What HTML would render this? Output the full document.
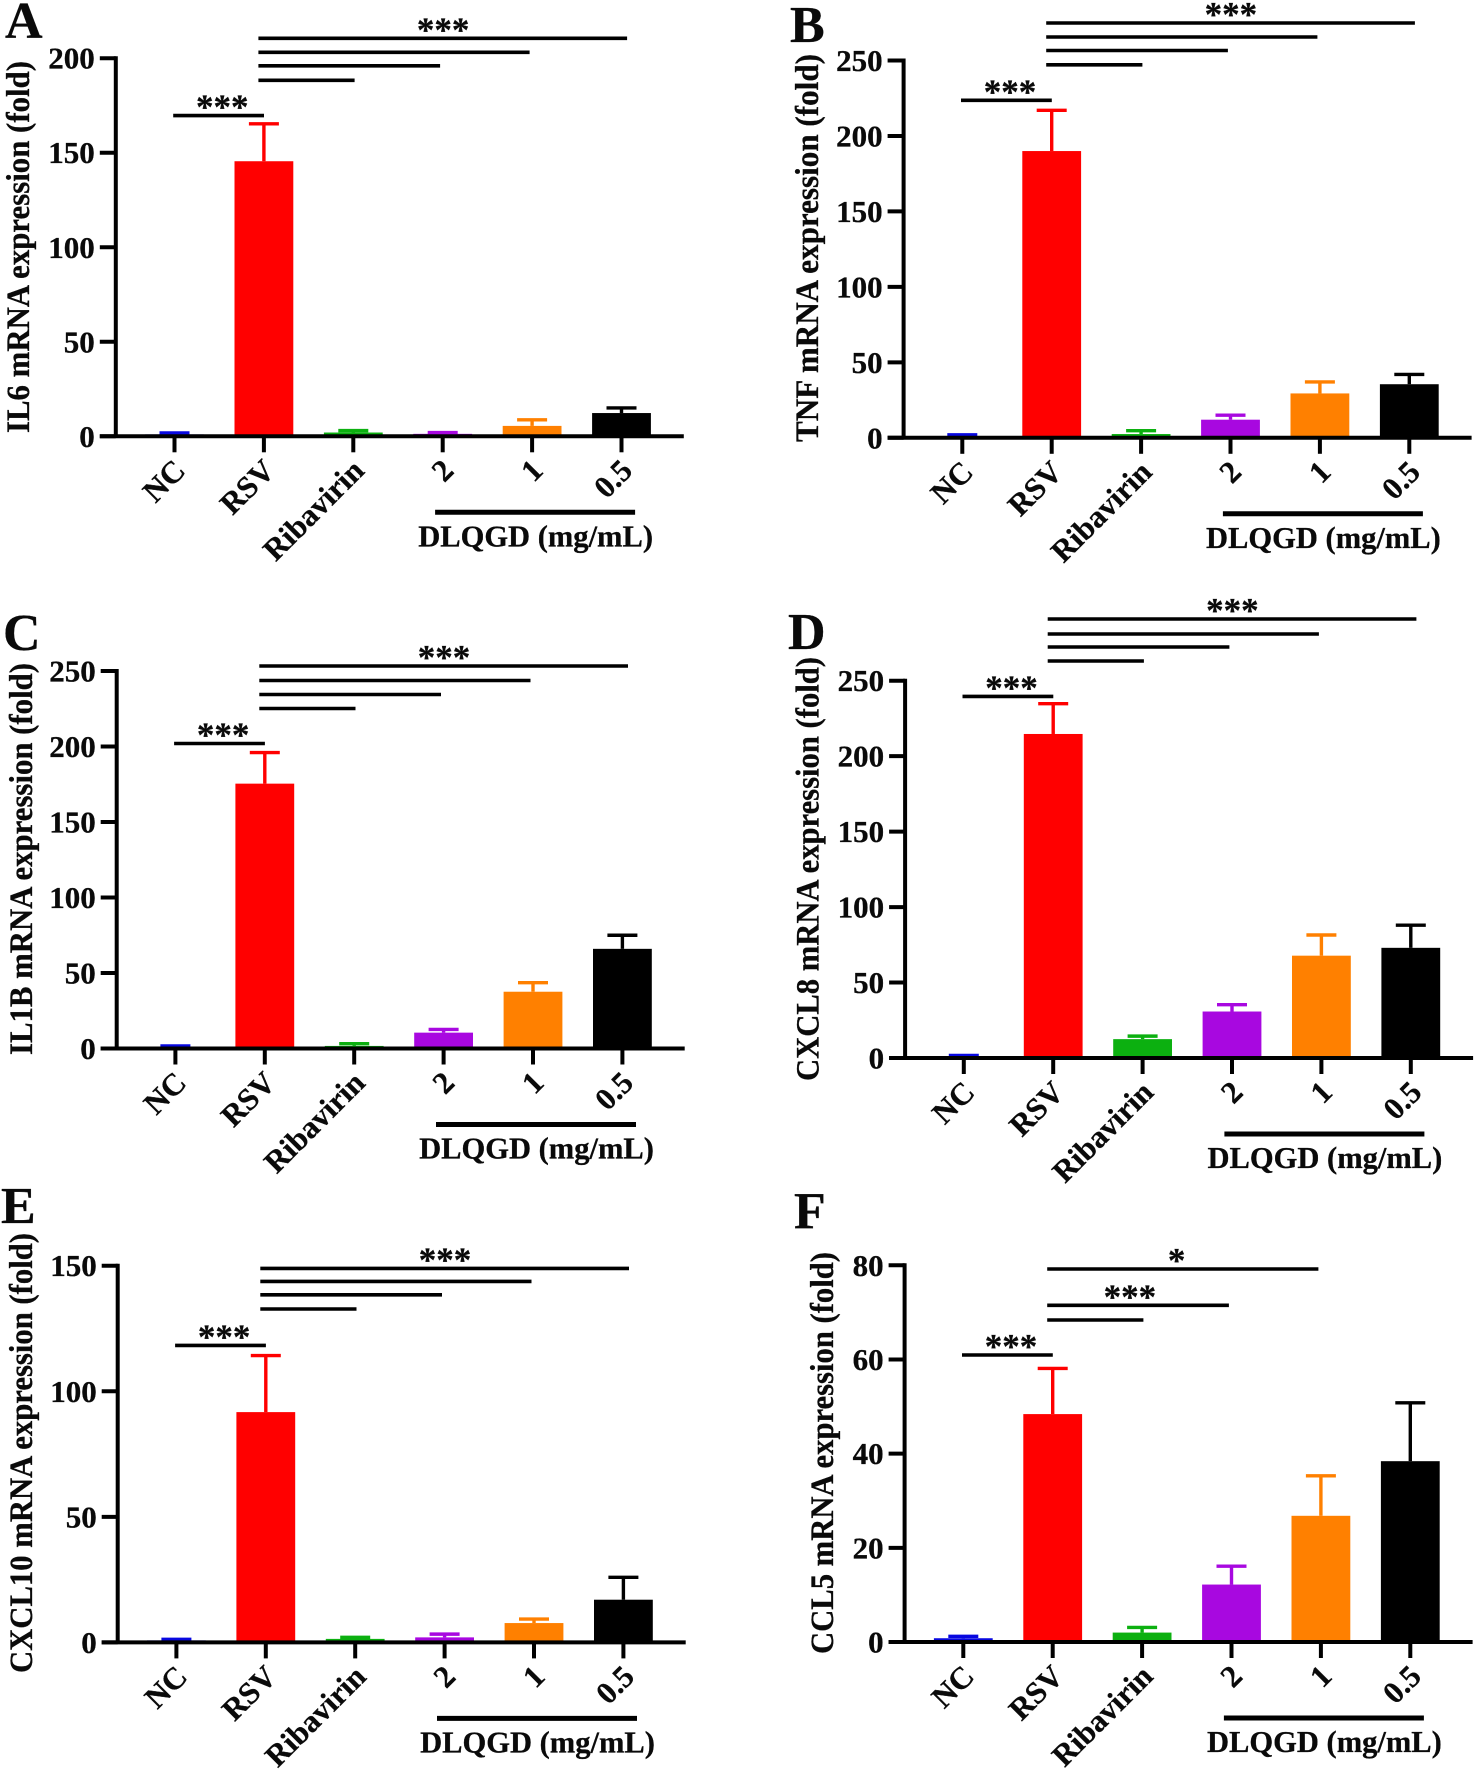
<!DOCTYPE html>
<html lang="en">
<head>
<meta charset="utf-8">
<title>mRNA expression bar charts</title>
<style>
html,body{margin:0;padding:0;background:#fff}
svg{display:block}
text{font-family:"Liberation Serif",serif;font-weight:bold;fill:#0a0a0a;stroke:#0a0a0a;stroke-width:.3px}
</style>
</head>
<body>
<svg id="figure" xmlns="http://www.w3.org/2000/svg" width="1476" height="1772" viewBox="0 0 1476 1772"></svg>
<script>
const categories = ['NC','RSV','Ribavirin','2','1','0.5'];
const barColors = ['#0808e0','#ff0000','#0cb010','#a808e0','#ff8000','#000000'];

const il6Values = [1,145.5,2,1.3,5.5,12.3];
const il6Tops = [1.8,165.3,3,2,8.7,15];
const il6Ticks = [0,50,100,150,200];

const tnfValues = [1,190,2.5,12,29.4,35.5];
const tnfTops = [2,217,4.7,15,37,42];
const tnfTicks = [0,50,100,150,200,250];

const il1bValues = [1,175.4,1.7,10.5,37.6,66];
const il1bTops = [1.7,196,3.2,12.6,43.6,75];
const il1bTicks = [0,50,100,150,200,250];

const cxcl8Values = [1,214.7,12.5,30.8,67.8,73];
const cxcl8Tops = [1.7,234.8,14.5,35.3,81.5,88];
const cxcl8Ticks = [0,50,100,150,200,250];

const cxcl10Values = [0.8,91.7,1.4,2,7.7,17];
const cxcl10Tops = [1.2,114.2,2,3.3,9.3,25.9];
const cxcl10Ticks = [0,50,100,150];

const ccl5Values = [0.8,48.4,2,12.2,26.8,38.4];
const ccl5Tops = [1.2,58.1,3.1,16.1,35.3,50.8];
const ccl5Ticks = [0,20,40,60,80];

const SVGNS = 'http://www.w3.org/2000/svg';
const svg = document.getElementById('figure');

function make(tag, parent, attrs, content) {
  const n = document.createElementNS(SVGNS, tag);
  for (const k in attrs) n.setAttribute(k, attrs[k]);
  if (content !== undefined) n.textContent = content;
  parent.appendChild(n);
  return n;
}

function slug(s) { return s.toLowerCase().replace(/[^a-z0-9]+/g, '-'); }

function drawPanel(p) {
  const g = make('g', svg, {});
  
  

  const maxTick = p.ticks[p.ticks.length - 1];
  const yScale = v => p.y0 - (v / maxTick) * (p.y0 - p.top);
  const xScale = i => p.axisX + 58.7 + i * 89.4;

  const letter = make('text', g, {x: p.letterX, y: p.letterY, 'font-size': 52}, p.letter);
  
  

  const title = make('text', g, {
    transform: 'translate(' + p.titleX + ',' + p.titleBottom + ') rotate(-90)',
    'font-size': 33, textLength: p.titleBottom - p.titleTop, lengthAdjust: 'spacingAndGlyphs'
  }, p.title);
  
  

  p.values.forEach((v, i) => {
    const cx = xScale(i);
    const top = yScale(p.tops[i]);
    const col = barColors[i];
    const stem = make('line', g, {x1: cx, x2: cx, y1: yScale(v), y2: top, stroke: col, 'stroke-width': 3.4});
    
    
    const cap = make('line', g, {x1: cx - 15, x2: cx + 15, y1: top, y2: top, stroke: col, 'stroke-width': 3.4});
    
    
    const bar = make('rect', g, {x: cx - 29.4, y: yScale(v), width: 58.8, height: p.y0 - yScale(v), fill: col});
    
    
  });

  const yAxis = make('line', g, {x1: p.axisX, x2: p.axisX, y1: p.top - 2, y2: p.y0, stroke: '#000', 'stroke-width': 4});
  
  
  const xAxis = make('line', g, {x1: p.axisX - 16, x2: p.axisX + 568, y1: p.y0, y2: p.y0, stroke: '#000', 'stroke-width': 4});
  
  

  p.ticks.forEach(t => {
    const y = yScale(t);
    const tick = make('line', g, {x1: p.axisX - 16, x2: p.axisX, y1: y, y2: y, stroke: '#000', 'stroke-width': 4});
    
    
    const lab = make('text', g, {x: p.axisX - 21, y: y + 10.5, 'font-size': 31, 'text-anchor': 'end'}, String(t));
    
    
  });

  categories.forEach((c, i) => {
    const cx = xScale(i);
    const tick = make('line', g, {x1: cx, x2: cx, y1: p.y0, y2: p.y0 + 16, stroke: '#000', 'stroke-width': 4});
    
    
    const lab = make('text', g, {
      transform: 'translate(' + (cx + 12.5) + ',' + (p.y0 + 36) + ') rotate(-45)',
      'font-size': 31, 'text-anchor': 'end'
    }, c);
    
    
  });

  const doseLine = make('line', g, {x1: p.axisX + 319.3, x2: p.axisX + 519.3, y1: p.y0 + 76, y2: p.y0 + 76, stroke: '#000', 'stroke-width': 5});
  
  
  const doseLab = make('text', g, {x: p.axisX + 302.4, y: p.y0 + 110, 'font-size': 31, textLength: 234.8, lengthAdjust: 'spacingAndGlyphs'}, 'DLQGD (mg/mL)');
  
  

  const nc = make('line', g, {x1: p.axisX + 57.4, x2: p.axisX + 148.2, y1: p.y0 - p.ncLine, y2: p.y0 - p.ncLine, stroke: '#000', 'stroke-width': 3.6});
  
  
  const ncStars = make('text', g, {x: p.axisX + 106.4, y: p.y0 - p.ncLine + 3, 'font-size': 35, 'text-anchor': 'middle'}, '***');
  
  

  const spanEnds = [238.8, 324.3, 413.8, 511.3];
  p.sigLines.forEach(s => {
    const ln = make('line', g, {x1: p.axisX + 142.6, x2: p.axisX + spanEnds[s.span], y1: p.y0 - s.h, y2: p.y0 - s.h, stroke: '#000', 'stroke-width': 3.6});
    
    
    if (s.stars) {
      const st = make('text', g, {x: p.axisX + s.starsX, y: p.y0 - s.h + 3, 'font-size': 35, 'text-anchor': 'middle'}, s.stars);
      
      
    }
  });
}

drawPanel({letter:'A', letterX:5, letterY:38, title:'IL6 mRNA expression (fold)', titleX:29, titleTop:61, titleBottom:433,
  axisX:115.8, top:58.2, y0:436.3, ticks:il6Ticks, values:il6Values, tops:il6Tops, ncLine:320.7,
  sigLines:[{span:3,h:398,stars:'***',starsX:327.3},{span:2,h:384},{span:1,h:370.5},{span:0,h:356}]});

drawPanel({letter:'B', letterX:790, letterY:42, title:'TNF mRNA expression (fold)', titleX:818, titleTop:54, titleBottom:442,
  axisX:903.6, top:60.5, y0:437.8, ticks:tnfTicks, values:tnfValues, tops:tnfTops, ncLine:337.5,
  sigLines:[{span:3,h:414.8,stars:'***',starsX:327.3},{span:2,h:400.8},{span:1,h:387.3},{span:0,h:373}]});

drawPanel({letter:'C', letterX:3, letterY:650, title:'IL1B mRNA expression (fold)', titleX:32, titleTop:663, titleBottom:1055,
  axisX:116.7, top:671, y0:1048.5, ticks:il1bTicks, values:il1bValues, tops:il1bTops, ncLine:305,
  sigLines:[{span:3,h:382.5,stars:'***',starsX:327.3},{span:2,h:368},{span:1,h:354},{span:0,h:340}]});

drawPanel({letter:'D', letterX:788, letterY:649, title:'CXCL8 mRNA expression (fold)', titleX:818.5, titleTop:657, titleBottom:1081,
  axisX:905.1, top:680.7, y0:1058, ticks:cxcl8Ticks, values:cxcl8Values, tops:cxcl8Tops, ncLine:361.6,
  sigLines:[{span:3,h:439,stars:'***',starsX:327.3},{span:2,h:424},{span:1,h:411},{span:0,h:397}]});

drawPanel({letter:'E', letterX:1, letterY:1223, title:'CXCL10 mRNA expression (fold)', titleX:32, titleTop:1233, titleBottom:1673,
  axisX:117.7, top:1265.7, y0:1642.4, ticks:cxcl10Ticks, values:cxcl10Values, tops:cxcl10Tops, ncLine:297,
  sigLines:[{span:3,h:374,stars:'***',starsX:327.3},{span:2,h:361},{span:1,h:347.6},{span:0,h:333.4}]});

drawPanel({letter:'F', letterX:794, letterY:1228, title:'CCL5 mRNA expression (fold)', titleX:833, titleTop:1252, titleBottom:1654,
  axisX:904.6, top:1265.3, y0:1642, ticks:ccl5Ticks, values:ccl5Values, tops:ccl5Tops, ncLine:287,
  sigLines:[{span:2,h:373,stars:'*',starsX:272},{span:1,h:336.7,stars:'***',starsX:225.3},{span:0,h:322}]});
</script>
</body>
</html>
